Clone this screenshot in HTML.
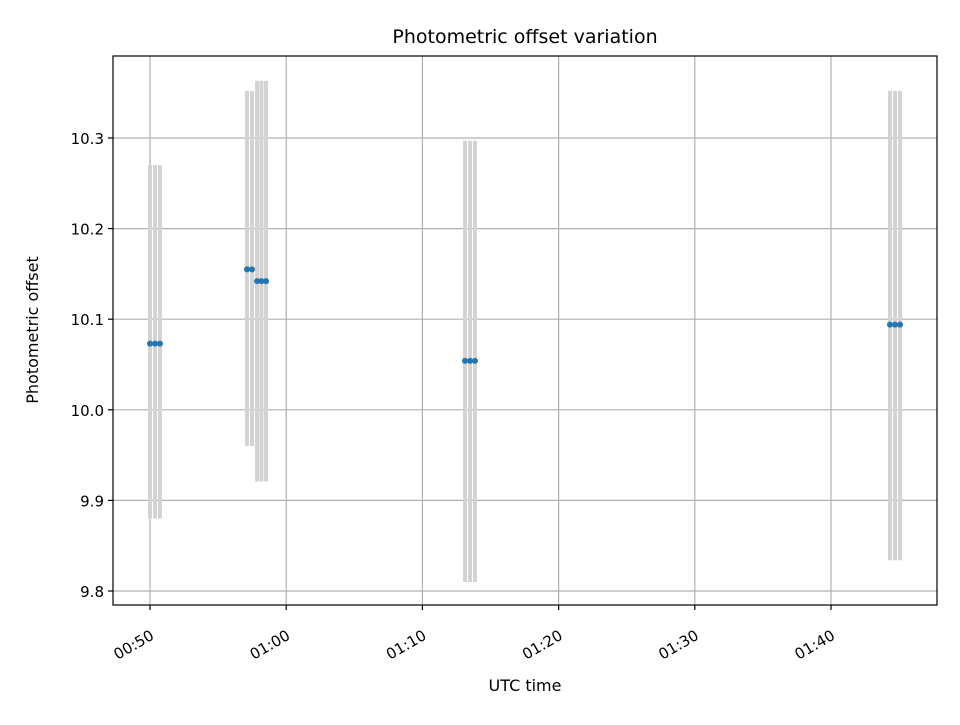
<!DOCTYPE html>
<html><head><meta charset="utf-8"><style>body{margin:0;background:#fff}svg text{font-family:"DejaVu Sans","Liberation Sans",sans-serif}</style></head>
<body>
<svg id="chart" width="960" height="720">
<rect width="960" height="720" fill="#fff"/>
<g id="grid"></g><g id="bars"></g><g id="pts"></g>
<rect x="113" y="56" width="824" height="549" fill="none" stroke="#000" stroke-width="1.2"/>
<g id="axes"></g>
<text x="525" y="43" text-anchor="middle" font-size="19">Photometric offset variation</text>
<text x="525" y="691" text-anchor="middle" font-size="16">UTC time</text>
<text x="38" y="330" text-anchor="middle" font-size="16" transform="rotate(-90 38 330)">Photometric offset</text>
</svg>
<script>
// minutes after 00:50
const times=[0,0.37,0.73,7.12,7.49,7.86,8.18,8.52,23.13,23.5,23.86,54.33,54.7,55.07];
const values=[10.073,10.073,10.073,10.155,10.155,10.142,10.142,10.142,10.054,10.054,10.054,10.094,10.094,10.094];
const lows=[9.88,9.88,9.88,9.96,9.96,9.921,9.921,9.921,9.81,9.81,9.81,9.834,9.834,9.834];
const highs=[10.27,10.27,10.27,10.352,10.352,10.363,10.363,10.363,10.297,10.297,10.297,10.352,10.352,10.352];
const xTicks=[0,10,20,30,40,50];
const xTickLabels=["00:50","01:00","01:10","01:20","01:30","01:40"];
const yTicks=[9.8,9.9,10.0,10.1,10.2,10.3];
const yTickLabels=["9.8","9.9","10.0","10.1","10.2","10.3"];
const X=m=>150+m*13.62;
const Y=v=>591-(v-9.8)*906;
const NS="http://www.w3.org/2000/svg";
function mk(p,t,a){const e=document.createElementNS(NS,t);for(const k in a)e.setAttribute(k,a[k]);document.getElementById(p).appendChild(e);return e;}
xTicks.forEach((t,i)=>{const x=X(t);
 let g=mk('grid','line',{x1:x,x2:x,y1:56,y2:605,stroke:'#b0b0b0','stroke-width':1.2});
 
 mk('axes','line',{x1:x,x2:x,y1:605,y2:610,stroke:'#000','stroke-width':1.2});
 let l=mk('axes','text',{x:x-1,y:628,'font-size':15,'text-anchor':'end',transform:`rotate(-30 ${x-1} 628)`});
 l.setAttribute('dy','0.8em');
 l.textContent=xTickLabels[i];});
yTicks.forEach((t,i)=>{const y=Y(t);
 let g=mk('grid','line',{x1:113,x2:937,y1:y,y2:y,stroke:'#b0b0b0','stroke-width':1.2});
 
 mk('axes','line',{x1:108,x2:113,y1:y,y2:y,stroke:'#000','stroke-width':1.2});
 let l=mk('axes','text',{x:104,y:y+6,'font-size':15,'text-anchor':'end'});
 l.textContent=yTickLabels[i];});
times.forEach((t,i)=>{const x=X(t);
 let b=mk('bars','line',{x1:x,x2:x,y1:Y(lows[i]),y2:Y(highs[i]),stroke:'#d3d3d3','stroke-width':4});
 
 let c=mk('pts','circle',{cx:x,cy:Y(values[i]),r:3,fill:'#1f77b4'});
 });
</script>
</body></html>
